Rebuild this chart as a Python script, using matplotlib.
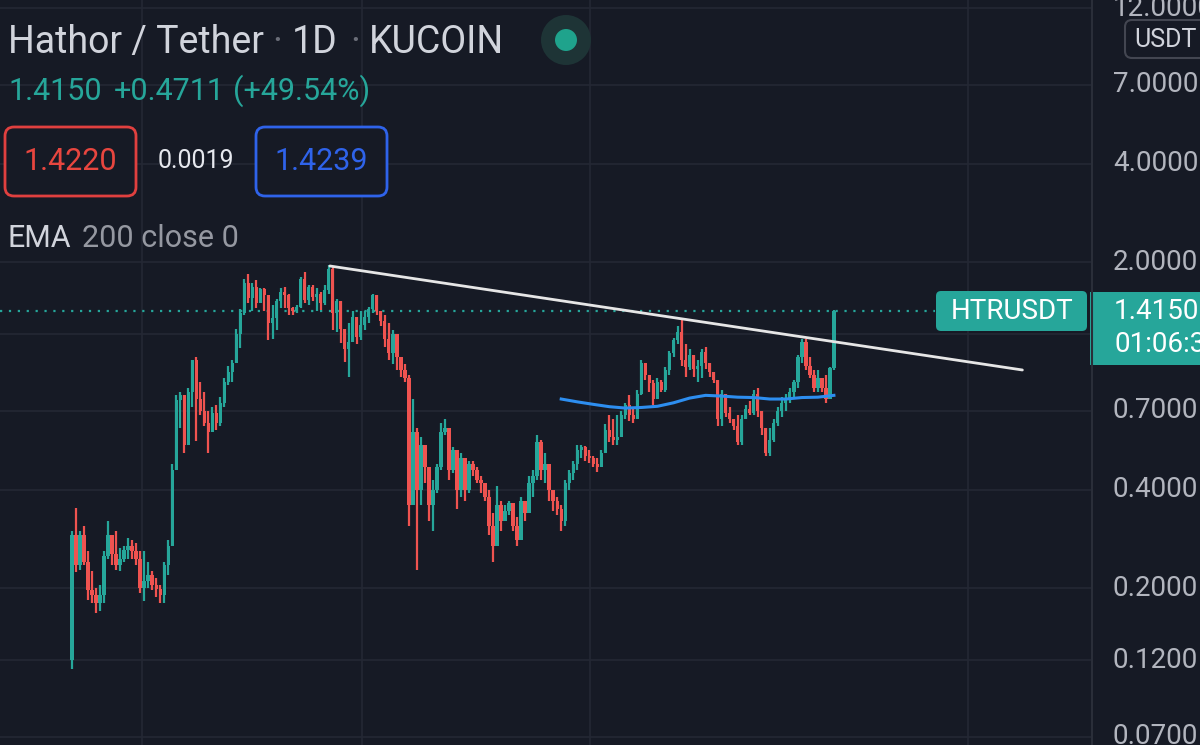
import matplotlib.pyplot as plt
import matplotlib.transforms as mtransforms
from matplotlib.patches import FancyBboxPatch, Circle, Rectangle
from matplotlib.lines import Line2D

plt.rcParams['font.family'] = ['Roboto', 'DejaVu Sans']

# daily candles, HTR/USDT
first_open = 0.12
closes = [0.29, 0.235, 0.291, 0.24, 0.197, 0.19, 0.18, 0.19, 0.25, 0.29,
          0.255, 0.235, 0.245, 0.262, 0.27, 0.26, 0.245, 0.20, 0.21, 0.22,
          0.205, 0.198, 0.19, 0.235, 0.27, 0.46, 0.755, 0.78, 0.55, 0.80,
          1.00, 0.76, 0.70, 0.64, 0.60, 0.69, 0.64, 0.74, 0.86, 0.92,
          0.98, 1.20, 1.40, 1.72, 1.55, 1.68, 1.50, 1.65, 1.58, 1.30,
          1.35, 1.52, 1.62, 1.58, 1.45, 1.42, 1.46, 1.78, 1.53, 1.68,
          1.56, 1.60, 1.50, 1.64, 1.90, 1.40, 1.52, 1.25, 1.08, 1.14,
          1.36, 1.18, 1.28, 1.36, 1.44, 1.58, 1.42, 1.32, 1.16, 1.05,
          1.20, 1.02, 0.93, 0.88, 0.36, 0.60, 0.40, 0.55, 0.47, 0.36,
          0.40, 0.47, 0.60, 0.62, 0.46, 0.53, 0.40, 0.50, 0.40, 0.48,
          0.46, 0.43, 0.42, 0.38, 0.31, 0.27, 0.36, 0.32, 0.345, 0.365,
          0.31, 0.28, 0.37, 0.34, 0.42, 0.44, 0.56, 0.46, 0.48, 0.40,
          0.37, 0.35, 0.32, 0.42, 0.45, 0.48, 0.53, 0.54, 0.51, 0.50,
          0.48, 0.47, 0.52, 0.61, 0.58, 0.57, 0.58, 0.68, 0.73, 0.68,
          0.66, 0.79, 0.98, 0.90, 0.85, 0.76, 0.86, 0.81, 0.93, 1.05,
          1.15, 1.22, 1.00, 0.95, 1.04, 0.94, 0.96, 1.06, 0.98, 0.92,
          0.87, 0.66, 0.79, 0.69, 0.66, 0.63, 0.56, 0.66, 0.71, 0.69,
          0.79, 0.70, 0.62, 0.52, 0.57, 0.64, 0.70, 0.74, 0.76, 0.80,
          0.86, 1.02, 1.14, 0.96, 0.90, 0.82, 0.88, 0.82, 0.76, 0.944,
          1.415]
highs = [0.30, 0.352, 0.30, 0.31, 0.26, 0.225, 0.20, 0.205, 0.26, 0.32,
         0.29, 0.30, 0.265, 0.27, 0.285, 0.28, 0.275, 0.26, 0.26, 0.24,
         0.225, 0.215, 0.205, 0.24, 0.28, 0.48, 0.78, 0.80, 0.74, 0.82,
         1.00, 1.02, 0.86, 0.80, 0.70, 0.72, 0.73, 0.77, 0.88, 0.96,
         1.00, 1.25, 1.44, 1.78, 1.84, 1.72, 1.76, 1.66, 1.66, 1.56,
         1.48, 1.54, 1.66, 1.68, 1.60, 1.46, 1.48, 1.80, 1.86, 1.70,
         1.70, 1.66, 1.62, 1.70, 1.96, 1.93, 1.54, 1.50, 1.20, 1.30,
         1.42, 1.33, 1.42, 1.42, 1.46, 1.60, 1.58, 1.42, 1.38, 1.30,
         1.24, 1.20, 1.02, 0.97, 0.90, 0.76, 0.62, 0.58, 0.53, 0.46,
         0.43, 0.48, 0.64, 0.66, 0.60, 0.54, 0.52, 0.52, 0.50, 0.49,
         0.49, 0.47, 0.44, 0.41, 0.40, 0.34, 0.41, 0.37, 0.36, 0.37,
         0.36, 0.33, 0.38, 0.37, 0.44, 0.46, 0.59, 0.57, 0.52, 0.46,
         0.40, 0.38, 0.36, 0.43, 0.46, 0.49, 0.55, 0.55, 0.545, 0.53,
         0.51, 0.50, 0.53, 0.635, 0.68, 0.66, 0.68, 0.70, 0.74, 0.78,
         0.72, 0.81, 1.00, 0.98, 0.90, 0.87, 0.88, 0.87, 0.95, 1.07,
         1.17, 1.27, 1.33, 1.12, 1.08, 1.04, 1.00, 1.08, 1.10, 0.96,
         0.92, 0.87, 0.81, 0.78, 0.72, 0.66, 0.68, 0.68, 0.73, 0.75,
         0.81, 0.82, 0.70, 0.62, 0.62, 0.66, 0.72, 0.77, 0.79, 0.82,
         0.87, 1.04, 1.16, 1.16, 1.02, 0.93, 0.93, 0.88, 0.90, 0.95,
         1.43]
lows = [0.113, 0.224, 0.227, 0.235, 0.184, 0.18, 0.168, 0.17, 0.18, 0.245,
        0.235, 0.227, 0.225, 0.24, 0.245, 0.245, 0.235, 0.193, 0.183, 0.20,
        0.197, 0.188, 0.18, 0.18, 0.22, 0.27, 0.46, 0.62, 0.52, 0.56,
        0.72, 0.565, 0.68, 0.63, 0.52, 0.60, 0.61, 0.63, 0.72, 0.84,
        0.86, 0.98, 1.09, 1.38, 1.50, 1.42, 1.45, 1.50, 1.42, 1.15,
        1.16, 1.24, 1.45, 1.45, 1.38, 1.38, 1.40, 1.45, 1.50, 1.48,
        1.52, 1.42, 1.43, 1.48, 1.60, 1.24, 1.22, 1.13, 0.99, 0.89,
        1.14, 1.12, 1.15, 1.24, 1.30, 1.40, 1.38, 1.27, 1.10, 1.00,
        0.97, 0.93, 0.89, 0.86, 0.31, 0.36, 0.227, 0.36, 0.42, 0.32,
        0.30, 0.39, 0.46, 0.59, 0.43, 0.45, 0.35, 0.38, 0.37, 0.39,
        0.44, 0.42, 0.39, 0.37, 0.29, 0.24, 0.27, 0.30, 0.32, 0.335,
        0.30, 0.27, 0.28, 0.32, 0.34, 0.38, 0.43, 0.43, 0.42, 0.37,
        0.345, 0.335, 0.30, 0.31, 0.40, 0.43, 0.46, 0.50, 0.49, 0.485,
        0.47, 0.455, 0.47, 0.52, 0.56, 0.55, 0.55, 0.60, 0.66, 0.65,
        0.64, 0.68, 0.78, 0.87, 0.80, 0.73, 0.76, 0.80, 0.80, 0.90,
        1.02, 1.12, 0.96, 0.89, 0.93, 0.89, 0.86, 0.88, 0.94, 0.89,
        0.85, 0.63, 0.63, 0.67, 0.64, 0.61, 0.55, 0.55, 0.66, 0.68,
        0.68, 0.67, 0.59, 0.51, 0.51, 0.56, 0.63, 0.67, 0.70, 0.74,
        0.76, 0.82, 0.98, 0.93, 0.88, 0.80, 0.80, 0.80, 0.74, 0.76,
        0.93]

# EMA 200 as drawn (bar index, value)
ema_idx = [122, 126, 130, 134, 138, 142, 146, 150, 154, 158, 162, 166,
           170, 174, 178, 182, 186, 190]
ema_vals = [0.76, 0.745, 0.732, 0.72, 0.713, 0.716, 0.722, 0.74, 0.765,
            0.78, 0.776, 0.77, 0.768, 0.76, 0.76, 0.768, 0.77, 0.78]

# hand-drawn trendline
trend_idx = [64.3, 237.0]
trend_vals = [1.945, 0.933]

tick_prices = [12, 7, 4, 2, 0.7, 0.4, 0.2, 0.12, 0.07]
grid_prices = [12, 7, 4, 2, 1.2, 0.7, 0.4, 0.2, 0.12, 0.07]
vgrid_idx = [17.5, 72.3, 129.2, 223.4]
last_price = 1.4150

BG = '#161a25'
GRID = '#242834'
TEAL = '#26a69a'
RED = '#ef5350'
W, H = 1200, 745
STEP = 4.01   # pixels per bar
X0 = 72       # pixel of first bar


def fx(x):
    return x / W


def fy(y):
    return 1 - y / H


fig = plt.figure(figsize=(12, 7.45), dpi=100, facecolor=BG)
ax = fig.add_axes([0, 0, 1092 / W, 1])
ax.set_facecolor(BG)
ax.set_yscale('log')
ax.set_ylim(0.066, 12.73)
ax.set_xlim(-X0 / STEP, (1092 - X0) / STEP)
for s in ax.spines.values():
    s.set_visible(False)
ax.set_xticks([])
ax.set_yticks([])
ax.minorticks_off()

for p in grid_prices:
    ax.axhline(p, color=GRID, lw=1.2, zorder=0)
for v in vgrid_idx:
    ax.axvline(v, color=GRID, lw=1.2, zorder=0)

# candles
opens = [first_open] + closes[:-1]
xs = list(range(len(closes)))
cols = [TEAL if c >= o else RED for o, c in zip(opens, closes)]
hi = [max(h, o, c) for h, o, c in zip(highs, opens, closes)]
lo = [min(l, o, c) for l, o, c in zip(lows, opens, closes)]
ax.vlines(xs, lo, hi, colors=cols, lw=1.6, zorder=2)
bottoms = [min(o, c) for o, c in zip(opens, closes)]
heights = [max(abs(c - o), 0.012 * c) for o, c in zip(opens, closes)]
ax.bar(xs, heights, bottom=bottoms, width=0.85, color=cols, lw=0, zorder=2)

ax.plot(ema_idx, ema_vals, color='#2d8ef0', lw=2.2, zorder=3)
ax.plot(trend_idx, trend_vals, color='#e6e6e6', lw=2, zorder=4,
        solid_capstyle='round')
ax.axhline(last_price, xmin=0, xmax=935 / 1092, color=TEAL, lw=1.6,
           ls=(0, (1, 3)), zorder=1)

# price scale (labels run off the right edge as in the screenshot)
trans = mtransforms.blended_transform_factory(ax.transAxes, ax.transData)
for p in tick_prices:
    ax.text(1113 / 1092, p, f"{p:.4f}", transform=trans, ha='left',
            va='center', fontsize=20, color='#b2b5be', clip_on=False)
fig.add_artist(Line2D([fx(1092)] * 2, [0, 1], color='#2a2e39', lw=1.5))

inch = fig.dpi_scale_trans


def rbox(x0, y0, x1, y1, fc, ec, lw=0, r=6):
    fig.add_artist(FancyBboxPatch((x0 / 100, (H - y1) / 100),
                                  (x1 - x0) / 100, (y1 - y0) / 100,
                                  boxstyle=f"round,pad=0,rounding_size={r / 100}",
                                  fc=fc, ec=ec, lw=lw, transform=inch))


# last price tags
rbox(936, 291, 1087, 331, TEAL, 'none', r=5)
fig.text(fx(1012), fy(311), "HTRUSDT", ha='center', va='center',
         fontsize=20, color='white')
fig.add_artist(Rectangle((fx(1090), fy(365)), fx(115), 73 / H, fc=TEAL,
                         ec='none'))
fig.text(fx(1114), fy(311), "1.4150", ha='left', va='center', fontsize=20,
         color='white')
fig.text(fx(1114), fy(344), "01:06:35", ha='left', va='center', fontsize=20,
         color='white')

rbox(1125, 20, 1215, 58, BG, '#434651', lw=1.5, r=7)
fig.text(fx(1134), fy(40), "USDT", ha='left', va='center', fontsize=18,
         color='#d1d4dc')

# header
title_col = '#d1d4dc'
fig.text(fx(8), fy(53), "Hathor / Tether", fontsize=27, color=title_col,
         va='baseline')
fig.text(fx(277), fy(53), "·", fontsize=27, color='#6a6d78', va='baseline',
         ha='center')
fig.text(fx(292), fy(53), "1D", fontsize=27, color=title_col, va='baseline')
fig.text(fx(355), fy(53), "·", fontsize=27, color='#6a6d78', va='baseline',
         ha='center')
fig.text(fx(369), fy(53), "KUCOIN", fontsize=27, color=title_col,
         va='baseline')

fig.add_artist(Circle((5.66, (H - 40) / 100), 0.25, fc='#1e3436', ec='none',
                      transform=inch))
fig.add_artist(Circle((5.66, (H - 40) / 100), 0.11, fc='#1fa38c', ec='none',
                      transform=inch))

fig.text(fx(8), fy(100), "1.4150", fontsize=22, color=TEAL, va='baseline')
fig.text(fx(114), fy(100), "+0.4711", fontsize=22, color=TEAL,
         va='baseline')
fig.text(fx(233), fy(100), "(+49.54%)", fontsize=22, color=TEAL,
         va='baseline')

rbox(5, 127, 136, 196, BG, '#e0403f', lw=2, r=9)
fig.text(fx(70), fy(161), "1.4220", fontsize=22, color='#e8463f',
         ha='center', va='center')
fig.text(fx(196), fy(161), "0.0019", fontsize=18, color='#e6e8ee',
         ha='center', va='center')
rbox(256, 127, 387, 196, BG, '#2f63ea', lw=2, r=9)
fig.text(fx(321), fy(161), "1.4239", fontsize=22, color='#2f63ea',
         ha='center', va='center')

fig.text(fx(8), fy(247), "EMA", fontsize=22, color='#d1d4dc', va='baseline')
fig.text(fx(82), fy(247), "200 close 0", fontsize=22, color='#9598a1',
         va='baseline')

fig.savefig('out.png', dpi=100, facecolor=BG)
